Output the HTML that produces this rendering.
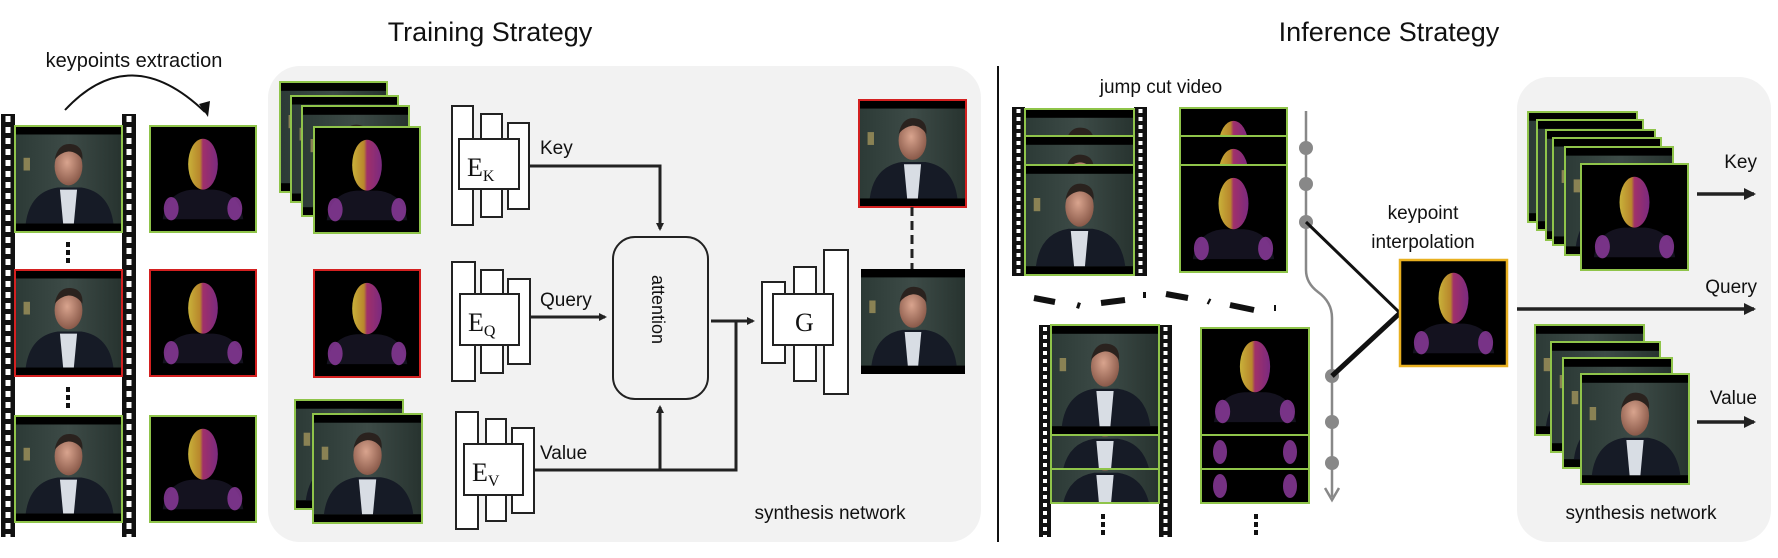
<!DOCTYPE html>
<html><head><meta charset="utf-8"><style>
html,body{margin:0;padding:0;background:#fff;}
svg{display:block;font-family:"Liberation Sans",sans-serif;}
</style></head><body>
<svg width="1778" height="558" viewBox="0 0 1778 558" xmlns="http://www.w3.org/2000/svg">
<defs>
<radialGradient id="skin" cx="0.45" cy="0.4" r="0.6"><stop offset="0" stop-color="#d9a48e"/><stop offset="1" stop-color="#8a5a4a"/></radialGradient>
<linearGradient id="bg" x1="0" y1="0" x2="1" y2="0"><stop offset="0" stop-color="#2c3a36"/><stop offset="0.5" stop-color="#3d4b47"/><stop offset="1" stop-color="#27332f"/></linearGradient>
<linearGradient id="face" x1="0" y1="0" x2="1" y2="0"><stop offset="0" stop-color="#c9b23a"/><stop offset="0.4" stop-color="#b8862c"/><stop offset="0.5" stop-color="#a0306a"/><stop offset="1" stop-color="#7a2a80"/></linearGradient>
<symbol id="photo" viewBox="0 0 100 100" preserveAspectRatio="none">
<g stroke="none">
<rect width="100" height="100" fill="#000"/>
<rect y="8" width="100" height="84" fill="url(#bg)"/>
<rect x="8" y="30" width="6" height="12" fill="#b0a060" opacity="0.7"/>
<path d="M10 92 Q14 62 40 58 L62 58 Q88 62 92 92 Z" fill="#161b26"/>
<path d="M42 60 L58 60 L55 92 L45 92 Z" fill="#d8dde4"/>
<ellipse cx="50" cy="38" rx="13" ry="18" fill="url(#skin)"/>
<path d="M37 32 Q40 16 52 17 Q64 18 63 32 Q58 24 50 24 Q42 25 37 32Z" fill="#2a221e"/>
</g>
</symbol>
<symbol id="kp" viewBox="0 0 100 100" preserveAspectRatio="none">
<g stroke="none">
<rect width="100" height="100" fill="#000"/>
<path d="M12 88 Q16 62 40 60 L60 60 Q84 62 88 88 Z" fill="#14121f"/>
<ellipse cx="20" cy="78" rx="7" ry="11" fill="#8a3a9a" opacity="0.85"/>
<ellipse cx="80" cy="78" rx="7" ry="11" fill="#8a3a9a" opacity="0.85"/>
<ellipse cx="50" cy="36" rx="14" ry="24" fill="url(#face)"/>
</g>
</symbol>
<marker id="ah" markerWidth="8" markerHeight="8" refX="6" refY="4" orient="auto" markerUnits="userSpaceOnUse"><path d="M0 0 L8 4 L0 8 Z" fill="#222"/></marker>
<marker id="ah2" markerWidth="12" markerHeight="12" refX="10" refY="6" orient="auto" markerUnits="userSpaceOnUse"><path d="M0 0 L12 6 L0 12 Z" fill="#222"/></marker>
</defs>

<!-- titles -->
<text x="490" y="41" font-size="27" text-anchor="middle" fill="#111">Training Strategy</text>
<text x="1389" y="41" font-size="27" text-anchor="middle" fill="#111">Inference Strategy</text>
<text x="134" y="67" font-size="20" text-anchor="middle" fill="#111">keypoints extraction</text>
<path d="M65 110 Q130 40 205 112" fill="none" stroke="#111" stroke-width="2"/>
<path d="M199 104 L208 117 L210 101 Z" fill="#111"/>

<!-- left film strip -->
<rect x="1" y="114" width="14" height="423" fill="#111"/>
<line x1="8" y1="116" x2="8" y2="537" stroke="#fff" stroke-width="5" stroke-dasharray="6,5"/>
<rect x="122" y="114" width="14" height="423" fill="#111"/>
<line x1="129" y1="116" x2="129" y2="537" stroke="#fff" stroke-width="5" stroke-dasharray="6,5"/>
<g stroke="#8fc44a" stroke-width="2">
<use href="#photo" x="15" y="126" width="107" height="106"/><rect x="15" y="126" width="107" height="106" fill="none"/>
<use href="#photo" x="15" y="270" width="107" height="106"/><rect x="15" y="270" width="107" height="106" fill="none" stroke="#d42020"/>
<use href="#photo" x="15" y="416" width="107" height="106"/><rect x="15" y="416" width="107" height="106" fill="none"/>
<use href="#kp" x="150" y="126" width="106" height="106"/><rect x="150" y="126" width="106" height="106" fill="none"/>
<use href="#kp" x="150" y="270" width="106" height="106"/><rect x="150" y="270" width="106" height="106" fill="none" stroke="#d42020"/>
<use href="#kp" x="150" y="416" width="106" height="106"/><rect x="150" y="416" width="106" height="106" fill="none"/>
</g>
<g fill="#111"><rect x="66" y="242" width="4" height="5"/><rect x="66" y="250" width="4" height="5"/><rect x="66" y="258" width="4" height="5"/>
<rect x="66" y="387" width="4" height="5"/><rect x="66" y="395" width="4" height="5"/><rect x="66" y="403" width="4" height="5"/></g>

<!-- training panel -->
<rect x="268" y="66" width="713" height="476" rx="32" fill="#f2f2f2"/>
<line x1="998" y1="66" x2="998" y2="542" stroke="#111" stroke-width="2"/>

<g stroke="#8fc44a" stroke-width="2">
<use href="#photo" x="280" y="82" width="107" height="110"/><rect x="280" y="82" width="107" height="110" fill="none"/>
<use href="#photo" x="291" y="96" width="107" height="106"/><rect x="291" y="96" width="107" height="106" fill="none"/>
<use href="#photo" x="302" y="106" width="107" height="110"/><rect x="302" y="106" width="107" height="110" fill="none"/>
<use href="#kp" x="314" y="127" width="106" height="106"/><rect x="314" y="127" width="106" height="106" fill="none"/>
<use href="#kp" x="314" y="270" width="106" height="107"/><rect x="314" y="270" width="106" height="107" fill="none" stroke="#d42020"/>
<use href="#photo" x="295" y="400" width="108" height="109"/><rect x="295" y="400" width="108" height="109" fill="none"/>
<use href="#photo" x="313" y="414" width="109" height="109"/><rect x="313" y="414" width="109" height="109" fill="none"/>
</g>

<!-- encoders -->
<g fill="#fff" stroke="#222" stroke-width="2">
<rect x="452" y="106" width="21" height="119"/><rect x="481" y="114" width="21" height="103"/><rect x="508" y="123" width="21" height="86"/>
<rect x="459" y="139" width="60" height="50"/>
<rect x="452" y="262" width="23" height="119"/><rect x="481" y="270" width="22" height="103"/><rect x="508" y="279" width="22" height="85"/>
<rect x="460" y="294" width="59" height="51"/>
<rect x="456" y="412" width="22" height="117"/><rect x="486" y="419" width="20" height="102"/><rect x="512" y="428" width="22" height="85"/>
<rect x="464" y="444" width="59" height="51"/>
<rect x="762" y="282" width="23" height="81"/><rect x="794" y="267" width="22" height="114"/><rect x="824" y="250" width="24" height="144"/>
<rect x="773" y="294" width="60" height="51"/>
</g>
<g font-family="Liberation Serif,serif" fill="#111">
<text x="467" y="176" font-size="26">E<tspan font-size="16" dy="5">K</tspan></text>
<text x="468" y="331" font-size="26">E<tspan font-size="16" dy="5">Q</tspan></text>
<text x="472" y="481" font-size="26">E<tspan font-size="16" dy="5">V</tspan></text>
<text x="795" y="331" font-size="26">G</text>
</g>
<g font-size="19" fill="#111">
<text x="540" y="154">Key</text><text x="540" y="306">Query</text><text x="540" y="459">Value</text>
</g>
<rect x="613" y="237" width="95" height="162" rx="22" fill="#f2f2f2" stroke="#222" stroke-width="2"/>
<text transform="translate(652,275) rotate(90)" font-size="18" fill="#111">attention</text>
<g fill="none" stroke="#222" stroke-width="3">
<path d="M529 166 H660 V229" marker-end="url(#ah)"/>
<path d="M530 317 H605" marker-end="url(#ah)"/>
<path d="M534 470 H736 V321"/>
<path d="M660 470 V407" marker-end="url(#ah)"/>
<path d="M711 321 H753" marker-end="url(#ah)"/>
</g>
<g stroke-width="2">
<use href="#photo" x="859" y="100" width="107" height="107"/><rect x="859" y="100" width="107" height="107" fill="none" stroke="#d42020"/>
<use href="#photo" x="861" y="269" width="104" height="105"/>
</g>
<line x1="912" y1="207" x2="912" y2="269" stroke="#222" stroke-width="3" stroke-dasharray="9,5"/>
<text x="830" y="519" font-size="19" text-anchor="middle" fill="#111">synthesis network</text>

<!-- inference -->
<text x="1161" y="93" font-size="19" text-anchor="middle" fill="#111">jump cut video</text>
<rect x="1012" y="107" width="13" height="169" fill="#111"/><rect x="1134" y="107" width="13" height="169" fill="#111"/>
<line x1="1018.5" y1="109" x2="1018.5" y2="276" stroke="#fff" stroke-width="4" stroke-dasharray="4,4"/>
<line x1="1140.5" y1="109" x2="1140.5" y2="276" stroke="#fff" stroke-width="4" stroke-dasharray="4,4"/>
<svg x="1025" y="109" width="109" height="27" viewBox="0 0 109 27" preserveAspectRatio="xMidYMin slice"><use href="#photo" x="0" y="0" width="109" height="110"/></svg>
<svg x="1025" y="136" width="109" height="29" viewBox="0 0 109 29" preserveAspectRatio="xMidYMin slice"><use href="#photo" x="0" y="0" width="109" height="110"/></svg>
<use href="#photo" x="1025" y="165" width="109" height="110"/>
<svg x="1180" y="108" width="107" height="28" viewBox="0 0 107 28"><use href="#kp" x="0" y="0" width="107" height="107"/></svg>
<svg x="1180" y="136" width="107" height="29" viewBox="0 0 107 29"><use href="#kp" x="0" y="0" width="107" height="107"/></svg>
<use href="#kp" x="1180" y="165" width="107" height="107"/>
<g stroke="#8fc44a" stroke-width="2" fill="none">
<rect x="1025" y="109" width="109" height="27"/><rect x="1025" y="136" width="109" height="29"/><rect x="1025" y="165" width="109" height="110"/>
<rect x="1180" y="108" width="107" height="28"/><rect x="1180" y="136" width="107" height="29"/><rect x="1180" y="165" width="107" height="107"/>
</g>
<path d="M1034 298 L1055 302 M1077 305 L1080 306 M1101 303 L1125 300 M1143 295 L1146 295 M1166 294 L1188 298 M1208 301 L1210 302 M1230 305 L1254 310 M1274 308 L1276 308" stroke="#111" stroke-width="6" fill="none"/>
<rect x="1039" y="325" width="12" height="212" fill="#111"/><rect x="1159" y="325" width="13" height="212" fill="#111"/>
<line x1="1045" y1="327" x2="1045" y2="537" stroke="#fff" stroke-width="4" stroke-dasharray="4,4"/>
<line x1="1165.5" y1="327" x2="1165.5" y2="537" stroke="#fff" stroke-width="4" stroke-dasharray="4,4"/>
<use href="#photo" x="1051" y="325" width="108" height="110"/>
<svg x="1051" y="435" width="108" height="34" viewBox="0 60 108 34" preserveAspectRatio="none"><use href="#photo" x="0" y="0" width="108" height="110"/></svg>
<svg x="1051" y="469" width="108" height="34" viewBox="0 60 108 34" preserveAspectRatio="none"><use href="#photo" x="0" y="0" width="108" height="110"/></svg>
<use href="#kp" x="1201" y="328" width="108" height="107"/>
<rect x="1201" y="435" width="108" height="68" fill="#000"/>
<g fill="#8a3a9a" opacity="0.85">
<ellipse cx="1220" cy="452" rx="7" ry="12"/><ellipse cx="1290" cy="452" rx="7" ry="12"/>
<ellipse cx="1220" cy="486" rx="7" ry="12"/><ellipse cx="1290" cy="486" rx="7" ry="12"/></g>
<g stroke="#8fc44a" stroke-width="2" fill="none">
<rect x="1051" y="325" width="108" height="110"/><rect x="1051" y="435" width="108" height="34"/><rect x="1051" y="469" width="108" height="34"/>
<rect x="1201" y="328" width="108" height="107"/><rect x="1201" y="435" width="108" height="34"/><rect x="1201" y="469" width="108" height="34"/>
</g>
<g fill="#111"><rect x="1101" y="514" width="4" height="5"/><rect x="1101" y="522" width="4" height="5"/><rect x="1101" y="530" width="4" height="5"/>
<rect x="1254" y="514" width="4" height="5"/><rect x="1254" y="522" width="4" height="5"/><rect x="1254" y="530" width="4" height="5"/></g>

<path d="M1306 111 V270 Q1306 283 1318 292 Q1332 302 1332 318 V497" fill="none" stroke="#888" stroke-width="2.5"/>
<path d="M1325 488 L1332 500 L1339 488" fill="none" stroke="#888" stroke-width="2.5"/>
<g fill="#888"><circle cx="1306" cy="148" r="7"/><circle cx="1306" cy="184" r="7"/><circle cx="1306" cy="222" r="7"/>
<circle cx="1332" cy="376" r="7"/><circle cx="1332" cy="422" r="7"/><circle cx="1332" cy="463" r="7"/></g>
<path d="M1306 222 L1400 313" stroke="#111" stroke-width="3"/>
<path d="M1332 376 L1400 313" stroke="#111" stroke-width="5"/>
<text x="1423" y="219" font-size="19" text-anchor="middle" fill="#111">keypoint</text>
<text x="1423" y="248" font-size="19" text-anchor="middle" fill="#111">interpolation</text>
<use href="#kp" x="1400" y="260" width="107" height="106"/>
<rect x="1400" y="260" width="107" height="106" fill="none" stroke="#e8b020" stroke-width="2.5"/>

<rect x="1517" y="77" width="254" height="465" rx="32" fill="#f2f2f2"/>
<g stroke="#8fc44a" stroke-width="2">
<use href="#photo" x="1528" y="112" width="109" height="110"/><rect x="1528" y="112" width="109" height="110" fill="none"/>
<use href="#photo" x="1537" y="120" width="106" height="110"/><rect x="1537" y="120" width="106" height="110" fill="none"/>
<use href="#photo" x="1546" y="130" width="109" height="110"/><rect x="1546" y="130" width="109" height="110" fill="none"/>
<use href="#photo" x="1553" y="138" width="108" height="107"/><rect x="1553" y="138" width="108" height="107" fill="none"/>
<use href="#photo" x="1565" y="147" width="108" height="108"/><rect x="1565" y="147" width="108" height="108" fill="none"/>
<use href="#kp" x="1581" y="164" width="107" height="106"/><rect x="1581" y="164" width="107" height="106" fill="none"/>
<use href="#photo" x="1535" y="325" width="109" height="110"/><rect x="1535" y="325" width="109" height="110" fill="none"/>
<use href="#photo" x="1551" y="342" width="109" height="110"/><rect x="1551" y="342" width="109" height="110" fill="none"/>
<use href="#photo" x="1563" y="358" width="109" height="110"/><rect x="1563" y="358" width="109" height="110" fill="none"/>
<use href="#photo" x="1581" y="374" width="108" height="110"/><rect x="1581" y="374" width="108" height="110" fill="none"/>
</g>
<g font-size="19" fill="#111" text-anchor="end">
<text x="1757" y="168">Key</text><text x="1757" y="293">Query</text><text x="1757" y="404">Value</text>
</g>
<g stroke="#222" stroke-width="3.5">
<path d="M1697 194 H1754" marker-end="url(#ah2)"/>
<path d="M1517 309 H1754" marker-end="url(#ah2)"/>
<path d="M1697 422 H1754" marker-end="url(#ah2)"/>
</g>
<text x="1641" y="519" font-size="19" text-anchor="middle" fill="#111">synthesis network</text>
</svg>
</body></html>
